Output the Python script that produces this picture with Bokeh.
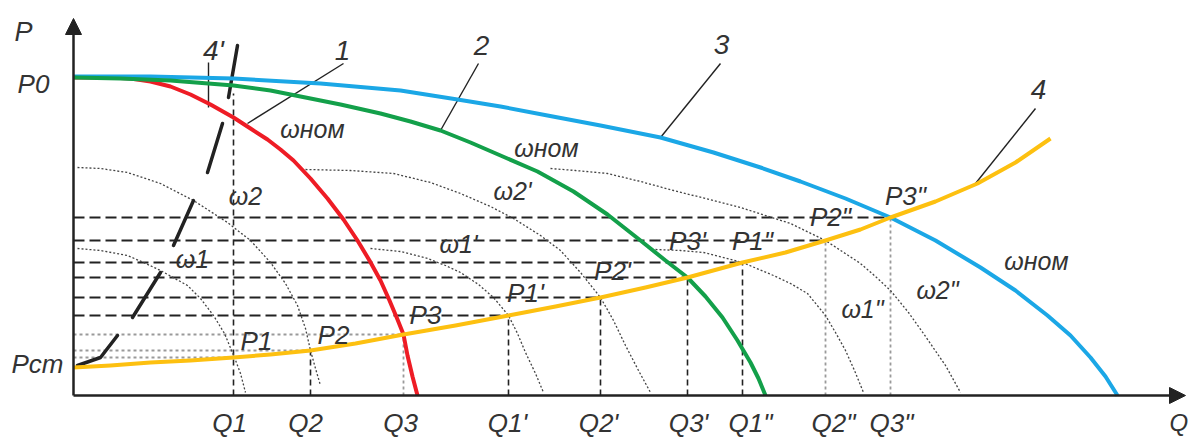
from bokeh.plotting import figure
from bokeh.models import Arrow, NormalHead
from bokeh.core.properties import value
from bokeh.embed import file_html
from bokeh.resources import INLINE

# ---------------- data (Q, P in chart units) ----------------
# curve 1 (red): pump characteristic at nominal speed
c1_q = [0, 3.7, 5.7, 7.7, 9.7, 11.7, 13.7, 16.0, 17.7, 19.4, 20.7, 22.0, 23.7, 25.4, 27.0, 28.4,
        29.6, 30.7, 31.6, 32.4, 33.0, 33.4, 33.9, 34.4]
c1_p = [31.8, 31.8, 31.7, 31.4, 30.9, 30.1, 29.1, 27.8, 26.7, 25.6, 24.6, 23.5, 21.7, 19.7, 17.6, 15.5,
        13.5, 11.5, 9.5, 7.6, 6.1, 4.0, 1.9, 0.0]
# curve 2 (green)
c2_q = [0, 4.7, 9.7, 16.0, 19.7, 22.7, 26.7, 30.7, 33.7, 36.7, 39.7, 42.7, 46.4, 50.0, 53.4, 56.7,
        59.2, 61.4, 63.2, 64.9, 66.4, 67.7, 68.5, 69.2]
c2_p = [31.8, 31.7, 31.5, 31.0, 30.5, 29.9, 29.1, 28.2, 27.4, 26.5, 25.3, 24.0, 22.4, 20.4, 18.1, 15.5,
        13.5, 11.8, 9.9, 7.8, 5.5, 3.3, 1.7, 0.0]
# curve 3 (blue)
c3_q = [0, 7.7, 16.0, 24.7, 32.7, 38.4, 42.7, 47.4, 52.7, 58.7, 64.0, 68.7, 72.7, 77.2, 81.7, 86.2,
        90.7, 94.2, 97.4, 99.7, 101.7, 103.2, 104.4]
c3_p = [31.9, 31.9, 31.7, 31.2, 30.5, 29.6, 28.9, 28.0, 27.0, 25.8, 24.3, 22.8, 21.4, 19.7, 17.8, 15.5,
        12.8, 10.5, 8.0, 6.0, 3.8, 1.9, 0.0]
# curve 4 (yellow): network characteristic
c4_q = [0, 3.7, 7.7, 11.7, 16.0, 19.7, 23.7, 28.2, 33.0, 38.2, 43.5, 48.2, 52.7, 57.2, 61.4, 66.9,
        71.2, 75.2, 78.7, 81.7, 86.2, 90.4, 94.2, 97.7]
c4_p = [2.8, 3.0, 3.3, 3.5, 3.8, 4.1, 4.5, 5.2, 6.1, 7.0, 8.0, 8.9, 9.8, 10.8, 11.8, 13.3,
        14.3, 15.5, 16.6, 17.8, 19.4, 21.2, 23.3, 25.7]

# reduced-speed characteristics (dotted arcs)
w1_q = [0.4, 2.7, 5.4, 7.0, 8.7, 11.4, 12.7, 14.0, 15.1, 16.1, 16.7, 17.2]
w1_p = [14.7, 14.5, 14.0, 13.3, 12.5, 11.0, 9.7, 8.0, 6.2, 3.8, 2.2, 0.3]
w2_q = [0.4, 2.7, 5.4, 8.7, 12.0, 15.4, 17.7, 19.7, 21.2, 22.4, 23.2, 23.7, 24.2, 24.7]
w2_p = [22.8, 22.7, 22.3, 21.2, 19.5, 17.3, 15.5, 13.3, 11.2, 9.0, 6.7, 4.5, 2.7, 1.0]
w1a_q = [29.7, 32.7, 35.4, 37.2, 38.7, 40.5, 42.0, 43.5, 44.4, 45.2, 46.2, 47.0]
w1a_p = [14.7, 14.4, 13.7, 13.0, 12.3, 11.1, 9.8, 8.0, 6.2, 4.3, 2.2, 0.3]
w2a_q = [23.2, 27.7, 32.0, 35.7, 38.7, 41.7, 44.0, 46.7, 48.7, 50.7, 52.7, 54.0, 55.2, 56.5, 57.7]
w2a_p = [22.6, 22.5, 22.2, 21.3, 20.2, 18.9, 17.7, 16.0, 14.5, 12.3, 9.8, 7.5, 5.0, 2.5, 0.3]
w1b_q = [58.2, 60.7, 63.0, 66.9, 70.0, 71.7, 73.4, 75.2, 76.2, 77.2, 78.1, 79.0]
w1b_p = [14.6, 14.5, 14.3, 13.3, 12.0, 11.2, 10.2, 8.0, 6.3, 4.5, 2.5, 0.3]
w2b_q = [47.7, 50.2, 53.4, 56.7, 60.0, 63.2, 66.7, 71.7, 75.2, 78.7, 80.2, 81.7, 83.5, 85.0, 87.2, 88.7]
w2b_p = [22.7, 22.5, 22.2, 21.4, 20.5, 19.7, 18.8, 17.2, 15.5, 13.2, 11.9, 10.5, 8.3, 6.2, 3.0, 0.3]

# curve 4' (thick dashed black) segments
c4p_q = [[0.4, 2.7, 4.4], [5.9, 8.7], [10.0, 12.0], [13.4, 14.9], [15.5, 16.4]]
c4p_p = [[3.0, 3.8, 6.0], [7.8, 12.3], [15.0, 19.5], [22.3, 27.2], [29.8, 35.0]]

# operating points
pt_names = ["P1", "P2", "P3", "P1'", "P2'", "P3'", 'P1"', 'P2"', 'P3"']
pt_q = [16.0, 23.7, 33.0, 43.5, 52.7, 61.4, 66.9, 75.2, 81.7]
pt_p = [3.8, 4.5, 6.1, 8.0, 9.8, 11.8, 13.3, 15.5, 17.8]
pt_black = [False, False, False, True, True, True, True, True, True]      # horizontal line style
vt_black = [True, True, False, True, True, True, True, False, False]      # vertical line style
vt_top = [30.2, 4.5, 6.1, 8.0, 9.8, 11.8, 13.3, 15.5, 17.8]
q_labels = ["Q1", "Q2", "Q3", "Q1'", "Q2'", "Q3'", 'Q1"', 'Q2"', 'Q3"']
q_label_x = [15.6, 23.2, 32.7, 43.4, 52.5, 61.5, 67.7, 76.0, 81.8]
pt_label_x = [18.3, 26.0, 35.2, 45.2, 53.9, 61.4, 67.9, 75.7, 83.2]
pt_label_y = [5.5, 6.1, 8.1, 10.3, 12.5, 15.5, 15.5, 17.9, 20.0]

w_labels = ["ω2", "ω1", "ω2'", "ω1'", 'ω1"', 'ω2"', "ωном", "ωном", "ωном"]
w_label_x = [17.2, 11.9, 43.9, 38.5, 78.9, 86.4, 23.9, 47.3, 96.3]
w_label_y = [20.0, 13.7, 20.5, 15.2, 8.7, 10.6, 26.7, 24.8, 13.5]

num_labels = ["1", "2", "3", "4", "4'"]
num_x = [26.9, 40.8, 64.8, 96.5, 14.0]
num_y = [34.5, 35.0, 35.1, 30.6, 34.5]
lead_x0 = [27.0, 40.5, 64.7, 96.2, 13.5]
lead_y0 = [33.2, 33.2, 33.2, 28.7, 33.3]
lead_x1 = [17.4, 36.7, 58.7, 90.2, 13.5]
lead_y1 = [27.2, 26.5, 25.8, 21.2, 28.8]

y_tick_labels = ["P0", "Pст"]
y_tick_x = [-4.0, -3.6]
y_tick_y = [31.2, 3.2]

# ---------------- figure ----------------
p = figure(width=1189, height=437, x_range=(-7.3, 111.6), y_range=(-4.2, 39.5),
           output_backend="svg", toolbar_location=None, min_border=0)
p.axis.visible = False
p.grid.visible = False
p.outline_line_color = None
p.background_fill_color = "white"

FONT = value("Liberation Sans")
TXT = "#333333"
INK = "#222222"

# horizontal reference lines
hb = [i for i, b in enumerate(pt_black) if b]
hg = [i for i, b in enumerate(pt_black) if not b]
p.segment(x0=[0] * len(hb), y0=[pt_p[i] for i in hb], x1=[pt_q[i] for i in hb], y1=[pt_p[i] for i in hb],
          line_color=INK, line_width=2, line_dash="11 5")
p.segment(x0=[0] * len(hg), y0=[pt_p[i] for i in hg], x1=[pt_q[i] for i in hg], y1=[pt_p[i] for i in hg],
          line_color="#9a9a9a", line_width=1.8, line_dash="3 3")
# vertical reference lines
vb = [i for i, b in enumerate(vt_black) if b]
vg = [i for i, b in enumerate(vt_black) if not b]
p.segment(x0=[pt_q[i] for i in vb], y0=[0] * len(vb), x1=[pt_q[i] for i in vb], y1=[vt_top[i] for i in vb],
          line_color=INK, line_width=1.6, line_dash="6 4")
p.segment(x0=[pt_q[i] for i in vg], y0=[0] * len(vg), x1=[pt_q[i] for i in vg], y1=[vt_top[i] for i in vg],
          line_color="#9a9a9a", line_width=1.8, line_dash="3 3")

# dotted reduced-speed arcs
for aq, ap in [(w1_q, w1_p), (w2_q, w2_p), (w1a_q, w1a_p), (w2a_q, w2a_p), (w1b_q, w1b_p), (w2b_q, w2b_p)]:
    p.line(aq, ap, line_color="#444444", line_width=1.3, line_dash="2 2", line_join="round")

# curve 4'
p.multi_line(c4p_q, c4p_p, line_color=INK, line_width=3.5, line_cap="round")

# leader lines
p.segment(x0=lead_x0, y0=lead_y0, x1=lead_x1, y1=lead_y1, line_color=INK, line_width=1.4)

# main curves
p.line(c1_q, c1_p, line_color="#ee1c25", line_width=4, line_join="round")
p.line(c3_q, c3_p, line_color="#1ba7e6", line_width=4, line_join="round")
p.line(c2_q, c2_p, line_color="#13a04a", line_width=4, line_join="round")
p.line(c4_q, c4_p, line_color="#fdc010", line_width=4, line_join="round")

# axes with arrows
p.add_layout(Arrow(end=NormalHead(size=16, fill_color=INK, line_color=INK),
                   x_start=0, y_start=0, x_end=111.2, y_end=0, line_width=2.5, line_color=INK))
p.add_layout(Arrow(end=NormalHead(size=16, fill_color=INK, line_color=INK),
                   x_start=0, y_start=0, x_end=0, y_end=37.7, line_width=2.5, line_color=INK))

# texts
common = dict(text_font=FONT, text_font_style="italic", text_color=TXT,
              text_align="center", text_baseline="middle")
p.text(x=q_label_x, y=[-2.7] * len(q_labels), text=q_labels, text_font_size=value("26px"), **common)
p.text(x=pt_label_x, y=pt_label_y, text=pt_names, text_font_size=value("26px"), **common)
p.text(x=w_label_x, y=w_label_y, text=w_labels, text_font_size=value("25px"), **common)
p.text(x=num_x, y=num_y, text=num_labels, text_font_size=value("28px"), **common)
p.text(x=y_tick_x, y=y_tick_y, text=y_tick_labels, text_font_size=value("26px"), **common)
p.text(x=[-5.0], y=[36.4], text=["P"], text_font_size=value("27px"), **common)
p.text(x=[109.6], y=[-2.7], text=["Q"], text_font_size=value("24px"), text_font=FONT,
       text_font_style="italic", text_color=TXT, text_align="left", text_baseline="middle")

open("out.html", "w").write(file_html(p, INLINE))
